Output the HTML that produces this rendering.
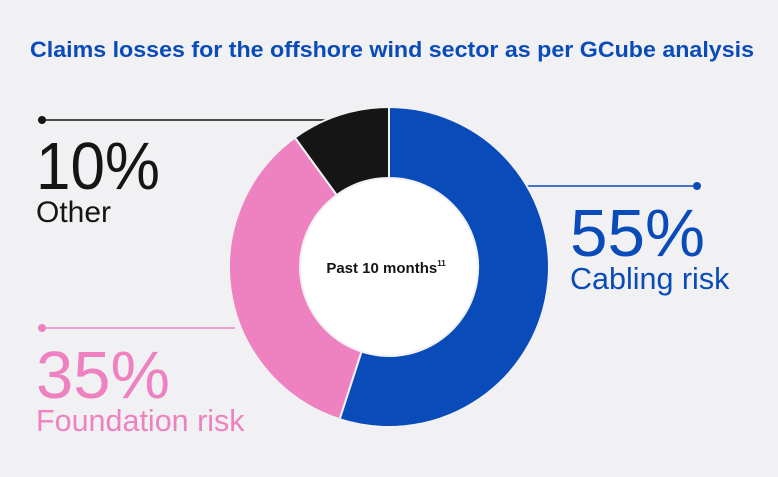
<!DOCTYPE html>
<html><head><style>body{margin:0;background:#f1f1f4}svg{display:block}text{font-family:"Liberation Sans",Arial,sans-serif}</style></head>
<body>
<svg width="778" height="477" viewBox="0 0 778 477" xmlns="http://www.w3.org/2000/svg">
<rect width="778" height="477" fill="#f1f1f4"/>
<text x="392" y="57" text-anchor="middle" font-size="22.5" font-weight="bold" fill="#0a4bba" textLength="724" lengthAdjust="spacingAndGlyphs">Claims losses for the offshore wind sector as per GCube analysis</text>
<line x1="42" y1="120" x2="340" y2="120" stroke="#151515" stroke-width="1.5"/>
<circle cx="42" cy="120" r="4" fill="#151515"/>
<line x1="520" y1="186" x2="697" y2="186" stroke="#0a4bba" stroke-width="1.5"/>
<circle cx="697" cy="186" r="4" fill="#0a4bba"/>
<line x1="42" y1="328" x2="235" y2="328" stroke="#ee82c1" stroke-width="1.5"/>
<circle cx="42" cy="328" r="4" fill="#ee82c1"/>
<g stroke="#f1f1f4" stroke-width="2">
<path d="M389,107 A160,160 0 1 1 339.6,419.2 L361.5,351.6 A89,89 0 1 0 389,178 Z" fill="#0a4bba"/>
<path d="M339.6,419.2 A160,160 0 0 1 294.9,137.6 L336.7,195 A89,89 0 0 0 361.5,351.6 Z" fill="#ee82c1"/>
<path d="M294.9,137.6 A160,160 0 0 1 389,107 L389,178 A89,89 0 0 0 336.7,195 Z" fill="#151515"/>
</g>
<circle cx="389" cy="267" r="88" fill="#ffffff"/>
<text x="386" y="273" text-anchor="middle" font-size="15" font-weight="bold" fill="#151515">Past 10 months<tspan font-size="8" dy="-7">11</tspan></text>
<text x="36" y="189" font-size="67" fill="#151515" textLength="124" lengthAdjust="spacingAndGlyphs">10%</text>
<text x="36" y="222" font-size="30" fill="#151515">Other</text>
<text x="570" y="256" font-size="67" fill="#0a4bba" textLength="135" lengthAdjust="spacingAndGlyphs">55%</text>
<text x="570" y="289" font-size="30.5" fill="#0a4bba">Cabling risk</text>
<text x="36" y="398" font-size="67" fill="#ee82c1" textLength="134" lengthAdjust="spacingAndGlyphs">35%</text>
<text x="36" y="431" font-size="30.5" fill="#ee82c1">Foundation risk</text>
</svg>
</body></html>
